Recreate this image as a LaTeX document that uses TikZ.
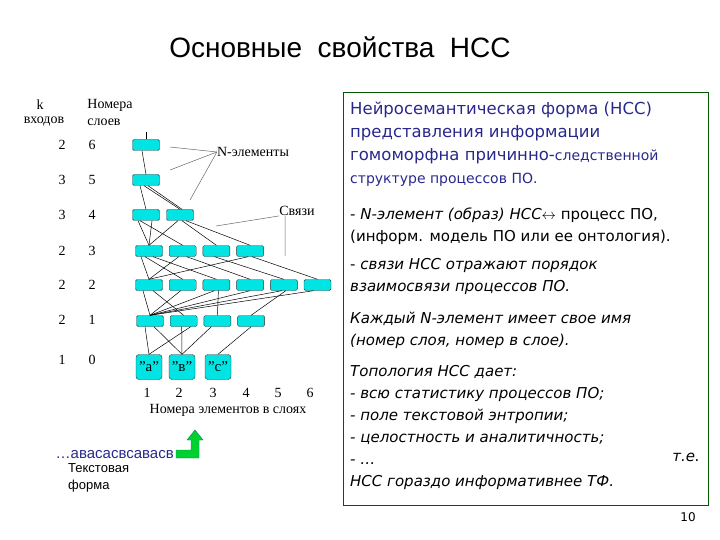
\documentclass[tikz,border=0pt]{standalone}
\usepackage{fontspec}
\usetikzlibrary{calc}
\setmainfont{Liberation Serif}
\newfontfamily\vf{DejaVu Sans}
\newfontfamily\af{Liberation Sans}
\definecolor{cy}{RGB}{0,228,228}
\definecolor{tb}{RGB}{40,40,140}
\begin{document}
\begin{tikzpicture}[x=1pt,y=-1pt,
  nel/.style={draw=black!80,fill=cy,rounded corners=1.5pt,minimum width=27pt,minimum height=11pt,inner sep=0pt},
  inel/.style={draw=black!80,fill=cy,rounded corners=3pt,minimum width=26pt,minimum height=25pt,inner sep=0pt,font=\fontsize{15}{15}\selectfont},
  lk/.style={black,line width=0.5pt},
  lbl/.style={font=\fontsize{14}{14}\selectfont,inner sep=0pt},
  rt/.style={font=\vf\fontsize{15}{22}\selectfont,anchor=north west,inner sep=0pt,align=left}]
\useasboundingbox (0,0) rectangle (720,540);
\node[font=\af\fontsize{28}{28}\selectfont] (title) at (340,47) {Основные\ \ свойства\ \ НСС};
% left labels
\node[lbl] (k) at (40,105) {k};
\node[lbl] (nm) at (110,105) {Номера};
\node[lbl] (vx) at (44,122) {входов};
\node[lbl] (sl) at (104,122) {слоев};
\foreach \k/\l/\y [count=\i] in {2/6/145,3/5/180,3/4/215,2/3/251,2/2/285,2/1/320,1/0/360}{
  \node[lbl] (kk\i) at (62,\y) {\k};
  \node[lbl] (ll\i) at (92,\y) {\l};
}
% nodes
\node[nel] (r61) at (146,145) {};
\node[nel] (r51) at (146,180) {};
\node[nel] (r41) at (146,215) {};
\node[nel] (r42) at (180,215) {};
\foreach \i in {1,...,4}{\node[nel] (r3\i) at ({149+33.7*(\i-1)},251) {};}
\foreach \i in {1,...,6}{\node[nel] (r2\i) at ({149+33.7*(\i-1)},285) {};}
\foreach \i in {1,...,4}{\node[nel] (r1\i) at ({150+33.7*(\i-1)},321) {};}
\node[inel] (a) at (149,367) {"a"};
\node[inel] (b) at (182,367) {"в"};
\node[inel] (c) at (218,367) {"c"};
\coordinate (top6) at ($(r61.north)+(0,-7)$);
\draw[lk] (r61.north) -- (top6);
% links
\draw[lk] (r51.north) -- ([xshift=-4pt]r61.south);
\draw[lk] (r41.north) -- ([xshift=-6pt]r51.south);
\draw[lk] (r42.north) -- ([xshift=-2pt]r51.south);
\draw[lk] ([xshift=2pt]r42.north) -- ([xshift=2pt]r51.south);
\draw[lk] (r31.north) -- ([xshift=-8pt]r41.south);
\draw[lk] (r31.north) -- ([xshift=6pt]r41.south);
\draw[lk] (r32.north) -- ([xshift=-6pt]r41.south);
\draw[lk] (r31.north) -- ([xshift=-2pt]r42.south);
\draw[lk] (r33.north) -- ([xshift=2pt]r42.south);
\draw[lk] (r34.north) -- ([xshift=6pt]r42.south);
\draw[lk] (r21.north) -- ([xshift=-8pt]r31.south);
\draw[lk] (r22.north) -- ([xshift=-4pt]r31.south);
\draw[lk] (r23.north) -- ([xshift=4pt]r31.south);
\draw[lk] (r21.north) -- ([xshift=-4pt]r32.south);
\draw[lk] (r24.north) -- ([xshift=4pt]r32.south);
\draw[lk] (r21.north) -- ([xshift=-2pt]r34.south);
\draw[lk] (r25.north) -- ([xshift=-2pt]r33.south);
\draw[lk] (r26.north) -- ([xshift=2pt]r34.south);
\draw[lk] (r11.north) -- ([xshift=-6pt]r21.south);
\draw[lk] (r12.north) -- ([xshift=4pt]r21.south);
\draw[lk] (r11.north) -- ([xshift=-2pt]r22.south);
\draw[lk] (r11.north) -- ([xshift=-2pt]r23.south);
\draw[lk] (r13.north) -- ([xshift=2pt]r23.south);
\draw[lk] (r11.north) -- (r24.south);
\draw[lk] (r11.north) -- ([xshift=-2pt]r25.south);
\draw[lk] (r14.north) -- ([xshift=2pt]r25.south);
\draw[lk] (r11.north) -- ([xshift=-4pt]r26.south);
\draw[lk] (a.north) -- ([xshift=-5pt]r11.south);
\draw[lk] (a.north) -- ([xshift=7pt]r12.south);
\draw[lk] (b.north) -- ([xshift=4pt]r11.south);
\draw[lk] (b.north) -- ([xshift=-2pt]r12.south);
\draw[lk] (b.north) -- ([xshift=-6pt]r13.south);
\draw[lk] (c.north) -- (r14.south);
% annotations
\node[lbl] (ne) at (253,152) {N-элементы};
\draw[lk,black!60] (ne.west) -- (170,147);
\draw[lk,black!60] (ne.west) -- (170,170);
\draw[lk,black!60] (ne.west) -- (190,200);
\node[lbl] (sv) at (297,211) {Связи};
\draw[lk,black!60] (sv.south west) -- (216,226);
\draw[lk,black!60] ([xshift=6pt]sv.south west) -- (285,256);
\foreach \n/\x in {1/147,2/179,3/213,4/246,5/278,6/310}{\node[lbl] (cn\n) at (\x,393) {\n};}
\node[lbl] (cap) at (228,410) {Номера элементов в слоях};
% text form
\node[font=\af\fontsize{15}{15}\selectfont,text=tb,inner sep=0pt,anchor=east] (tf) at (174,455) {…авасасвсавасв};
\node[font=\af\fontsize{13}{17}\selectfont,align=left,anchor=north west,inner sep=0pt] (tfl) at (68,463) {Текстовая\\форма};
\fill[green!65!teal,draw=teal] (176,450) -- (191,450) -- (191,440) -- (187,440) -- (195,430) -- (203,440) -- (199,440) -- (199,458) -- (176,458) -- cycle;
% right panel
\draw[green!35!black,line width=0.8pt] (343,92) rectangle (708,505);
\node[rt,text=tb,font=\vf\fontsize{16.5}{23}\selectfont] (p1) at (350,102) {Нейросемантическая форма (НСС)\\представления информации\\гомоморфна причинно-{\fontsize{14}{23}\selectfont следственной}\\{\fontsize{14}{23}\selectfont структуре процессов ПО.}};
\node[rt] (p2) at (350,208) {- \textit{N-элемент (образ) НСС}$\leftrightarrow$ процесс ПО,\\(информ. модель ПО или ее онтология).};
\node[rt] (p3) at (350,258) {- \textit{связи НСС отражают порядок}\\\textit{взаимосвязи процессов ПО.}};
\node[rt] (p4) at (350,312) {\textit{Каждый N-элемент имеет свое имя}\\\textit{(номер слоя, номер в слое).}};
\node[rt] (p5) at (350,365) {\textit{Топология НСС дает:}\\\textit{- всю статистику процессов ПО;}\\\textit{- поле текстовой энтропии;}\\\textit{- целостность и аналитичность;}\\\textit{- …}\\\textit{НСС гораздо информативнее ТФ.}};
\node[rt,anchor=north east] (te) at (700,453) {\textit{т.е.}};
\node[font=\vf\fontsize{12}{12}\selectfont,inner sep=0pt] (pg) at (688,517) {10};
\end{tikzpicture}
\end{document}
